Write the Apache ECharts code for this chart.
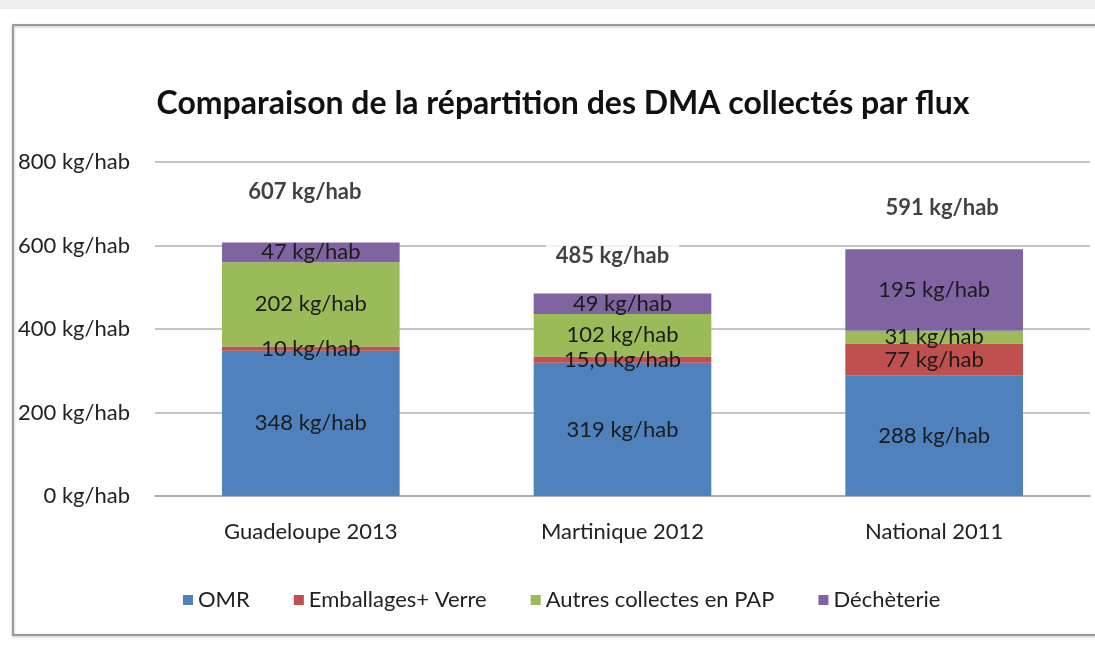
<!DOCTYPE html>
<html><head><meta charset="utf-8">
<script src="https://cdn.jsdelivr.net/npm/echarts@6/dist/echarts.min.js"></script>
<style>html,body{margin:0;padding:0;background:#fff;overflow:hidden}#c{width:1095px;height:648px}</style>
</head><body><div id="c"></div>
<script>
const categories = ['Guadeloupe 2013', 'Martinique 2012', 'National 2011'];
const omr = [348, 319, 288];
const emballages = [10, 15, 77];
const autres = [202, 102, 31];
const decheterie = [47, 49, 195];
const totals = [607, 485, 591];
const seriesNames = ['OMR', 'Emballages+ Verre', 'Autres collectes en PAP', 'Déchèterie'];
const yTicks = [0, 200, 400, 600, 800];

const FONT = 'Lato';
const chart = echarts.init(document.getElementById('c'));
const fmtInner = (p) => (p.seriesName === 'Emballages+ Verre' && p.dataIndex === 1 ? '15,0' : p.value) + ' kg/hab';
const seg = (name, data, color) => ({
  name, type: 'bar', stack: 'total', data, barWidth: '57%',
  itemStyle: { color },
  label: { show: true, position: 'inside', formatter: fmtInner, color: '#1b1b1b', fontFamily: FONT, fontSize: 22 }
});
const totalOffsets = [[-6, -51], [-10, -38], [8, -41]];
chart.setOption({
  animation: false,
  backgroundColor: '#fff',
  graphic: [
    { type: 'rect', shape: { x: 0, y: 0, width: 1095, height: 9 }, style: { fill: '#eeeeee' }, z: -10 },
    { type: 'polyline', shape: { points: [[1100, 25], [13, 25], [13, 635], [1100, 635]] }, style: { fill: null, stroke: '#9a9a9a', lineWidth: 2, shadowColor: 'rgba(0,0,0,0.25)', shadowBlur: 3, shadowOffsetY: 1 }, z: -9 }
  ],
  title: {
    text: 'Comparaison de la répartition des DMA collectés par flux',
    left: 558, top: 83, textAlign: 'center',
    textStyle: { fontFamily: FONT, fontSize: 32, fontWeight: 'bold', color: '#111' }
  },
  legend: {
    data: seriesNames, bottom: 32, left: 178, itemWidth: 10, itemHeight: 10, itemGap: 44, icon: 'rect',
    textStyle: { fontFamily: FONT, fontSize: 22, color: '#222' }
  },
  grid: { left: 155, right: 5, top: 162, bottom: 152 },
  xAxis: {
    type: 'category', data: categories,
    axisLine: { lineStyle: { color: '#a6a6a6', width: 1.5 } }, axisTick: { show: false },
    axisLabel: { fontFamily: FONT, fontSize: 22, color: '#222', margin: 25 }
  },
  yAxis: {
    type: 'value', min: yTicks[0], max: yTicks[yTicks.length - 1], interval: 200,
    axisLabel: { formatter: '{value} kg/hab', fontFamily: FONT, fontSize: 22, color: '#222', margin: 25 },
    splitLine: { lineStyle: { color: '#b0b0b0', width: 1.5 } },
    axisLine: { show: false }, axisTick: { show: false }
  },
  series: [
    seg(seriesNames[0], omr, '#4f81bd'),
    seg(seriesNames[1], emballages, '#c0504d'),
    seg(seriesNames[2], autres, '#9bbb59'),
    seg(seriesNames[3], decheterie, '#8064a2'),
    {
      name: 'Total', type: 'scatter', symbolSize: 0, silent: true,
      data: totals.map((v, i) => ({
        value: v,
        label: { offset: totalOffsets[i], backgroundColor: i === 1 ? '#fff' : 'transparent', padding: [2, 10] }
      })),
      label: { show: true, position: 'inside', formatter: '{c} kg/hab', fontFamily: FONT, fontSize: 22, fontWeight: 'bold', color: '#111' },
      z: 5
    }
  ]
});
</script></body></html>
